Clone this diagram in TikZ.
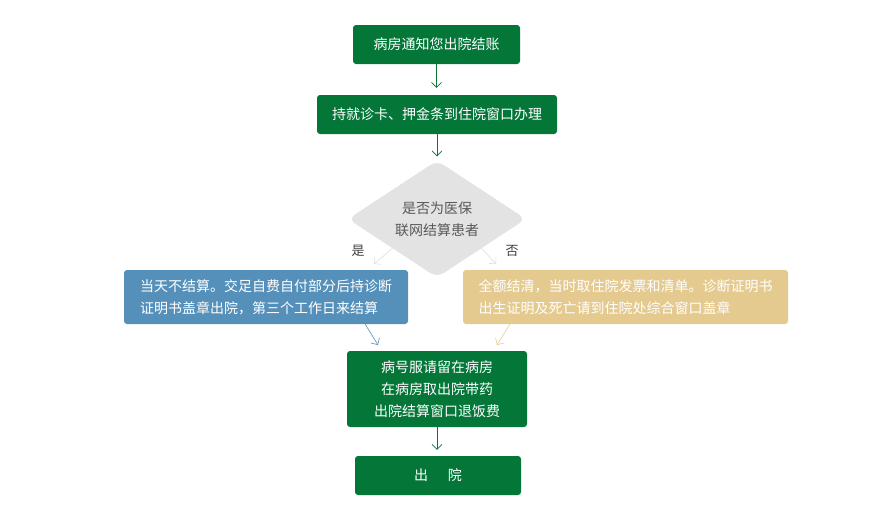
\documentclass[tikz,border=0pt]{standalone}
\usepackage{fontspec}
\setmainfont{Noto Sans CJK SC}
\usetikzlibrary{arrows.meta,shapes.geometric}
\definecolor{ward}{HTML}{037638}
\definecolor{hospblue}{HTML}{5590BA}
\definecolor{hosptan}{HTML}{E5CA8F}
\definecolor{ask}{HTML}{E3E3E3}

\begin{document}
\begin{tikzpicture}[x=1pt, y=-1pt, every node/.style={font=\fontsize{14pt}{22pt}\selectfont, text=white, inner sep=0pt},
  stepbox/.style={fill=ward, rounded corners=3pt, minimum height=39pt, align=center},
  notebox/.style={rounded corners=3pt, minimum height=54pt, align=left},
  link/.style={line width=0.6pt, -{Straight Barb[length=5pt,width=10pt]}}]
\useasboundingbox (0,0) rectangle (872,520);
% main line
\node[stepbox, minimum width=167pt] (notice) at (436.5,44.5) {病房通知您出院结账};
\node[stepbox, minimum width=240pt] (window) at (437,114.5) {持就诊卡、押金条到住院窗口办理};
\node[diamond, aspect=1.55, fill=ask, rounded corners=8pt, minimum width=178pt, minimum height=117pt, text=black!65, align=center] (insured) at (437,219) {是否为医保\\联网结算患者};
\node[text=black!75, font=\fontsize{13pt}{13pt}\selectfont] (yes) at (358,251) {是};
\node[text=black!75, font=\fontsize{13pt}{13pt}\selectfont] (no) at (512,251) {否};
% the two branches
\node[notebox, fill=hospblue, minimum width=284pt] (local) at (266,297) {当天不结算。交足自费自付部分后持诊断\\证明书盖章出院，第三个工作日来结算};
\node[notebox, fill=hosptan, minimum width=325pt] (other) at (625.5,297) {全额结清，当时取住院发票和清单。诊断证明书\\出生证明及死亡请到住院处综合窗口盖章};
\node[stepbox, minimum width=180pt, minimum height=76pt] (counter) at (437,389) {病号服请留在病房\\在病房取出院带药\\出院结算窗口退饭费};
\node[stepbox, minimum width=166pt] (leave) at (438,475.5) {出\hspace{20pt}院};
% free ends of the short arrows
\coordinate (lyes) at (374,264);
\coordinate (rno) at (496,264);
\coordinate (ljoin) at (378,345);
\coordinate (rjoin) at (497,345);
% arrows
\draw[link, ward, shorten >=7pt] (notice.south) -- (notice.south |- window.north);
\draw[link, ward, shorten >=4pt] (window.south) -- (window.south |- insured.north);
\draw[link, black!13] (insured.south west) -- (lyes);
\draw[link, black!13] (insured.south east) -- (rno);
\draw[link, hospblue] ([xshift=-43pt]local.south east) -- (ljoin);
\draw[link, hosptan] ([xshift=47pt]other.south west) -- (rjoin);
\draw[link, ward, shorten >=6pt] (counter.south) -- (counter.south |- leave.north);
\end{tikzpicture}
\end{document}
